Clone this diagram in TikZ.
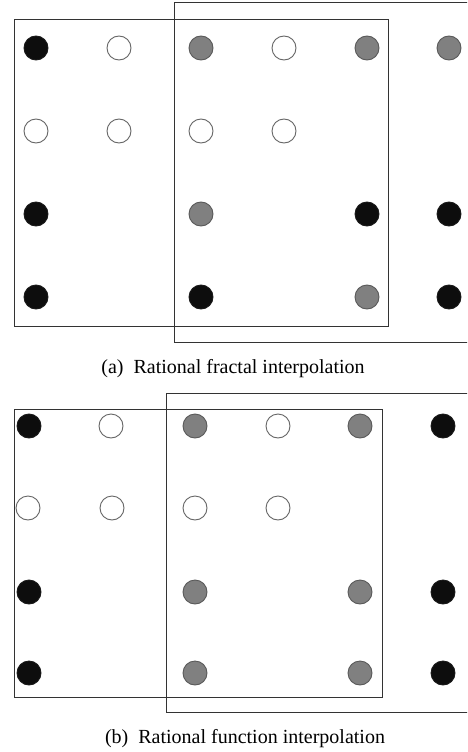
\documentclass[tikz,border=0pt]{standalone}
\usepackage{fontspec}
\setmainfont{Liberation Serif}
\begin{document}
\begin{tikzpicture}[x=1pt,y=-1pt,
  dot/.style={circle,inner sep=0pt,minimum size=24pt,line width=0.9pt},
  bk/.style={dot,draw=black!90,fill=black!95},
  gr/.style={dot,draw=black!65,fill=black!50},
  wh/.style={dot,draw=black!60,fill=white},
  frame/.style={draw=black!80,line width=1pt},
  captext/.style={font=\fontsize{20}{24}\selectfont,inner sep=0pt}]
\clip (0,0) rectangle (467,752);
\fill[white] (0,0) rectangle (467,752);
% ---- panel (a)
\draw[frame] (174,3) -- (480,3);
\draw[frame] (174,3) -- (174,342) -- (480,342);
\draw[frame] (14,20) rectangle (388,326);
\node[bk] (a11) at (36,48) {};
\node[wh] (a12) at (119,48) {};
\node[gr] (a13) at (201,48) {};
\node[wh] (a14) at (284,48) {};
\node[gr] (a15) at (367,48) {};
\node[gr] (a16) at (449,48) {};
\node[wh] (a21) at (36,131) {};
\node[wh] (a22) at (119,131) {};
\node[wh] (a23) at (201,131) {};
\node[wh] (a24) at (284,131) {};
\node[bk] (a31) at (36,214) {};
\node[gr] (a33) at (201,214) {};
\node[bk] (a35) at (367,214) {};
\node[bk] (a36) at (449,214) {};
\node[bk] (a41) at (36,297) {};
\node[bk] (a43) at (201,297) {};
\node[gr] (a45) at (367,297) {};
\node[bk] (a46) at (449,297) {};
\node[captext,anchor=base] (capa) at (233,373) {(a)\ \ Rational fractal interpolation};
% ---- panel (b)
\draw[frame] (166,393) -- (480,393);
\draw[frame] (166,393) -- (166,712) -- (480,712);
\draw[frame] (14,409) rectangle (382,697);
\node[bk] (b11) at (29,426) {};
\node[wh] (b12) at (111,426) {};
\node[gr] (b13) at (195,426) {};
\node[wh] (b14) at (278,426) {};
\node[gr] (b15) at (360,426) {};
\node[bk] (b16) at (443,426) {};
\node[wh] (b21) at (28,508) {};
\node[wh] (b22) at (112,508) {};
\node[wh] (b23) at (195,508) {};
\node[wh] (b24) at (278,508) {};
\node[bk] (b31) at (29,592) {};
\node[gr] (b33) at (195,592) {};
\node[gr] (b35) at (360,592) {};
\node[bk] (b36) at (443,592) {};
\node[bk] (b41) at (29,673) {};
\node[gr] (b43) at (195,673) {};
\node[gr] (b45) at (360,673) {};
\node[bk] (b46) at (443,673) {};
\node[captext,anchor=base] (capb) at (245,743) {(b)\ \ Rational function interpolation};
\end{tikzpicture}
\end{document}
